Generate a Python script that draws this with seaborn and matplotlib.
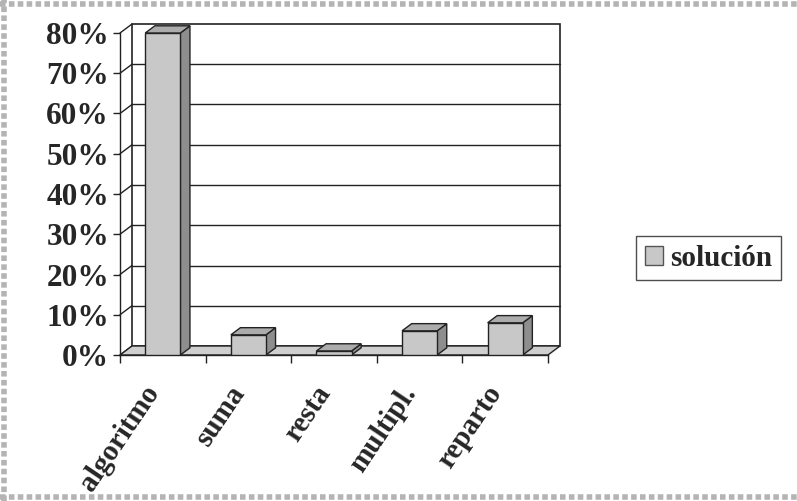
import matplotlib
matplotlib.use("Agg")
import matplotlib.pyplot as plt
from matplotlib import font_manager
from matplotlib.patches import Polygon, Rectangle, Patch
from matplotlib.lines import Line2D
from matplotlib.transforms import ScaledTranslation
import seaborn as sns
import pandas as pd

# Datos
categorias = ["algoritmo", "suma", "resta", "multipl.", "reparto"]
porcentajes = [80, 5, 1, 6, 8]
marcas_y = [0, 10, 20, 30, 40, 50, 60, 70, 80]
etiquetas_y = [f"{v}%" for v in marcas_y]
serie = "solución"

df = pd.DataFrame({"categoria": categorias, "porcentaje": porcentajes})

sns.set_style("white")
serif_path = font_manager.findfont(
    font_manager.FontProperties(family="Liberation Serif", weight="bold"),
    fallback_to_default=False)
fuente_y = font_manager.FontProperties(fname=serif_path, size=22.5)
fuente_x = font_manager.FontProperties(fname=serif_path, size=21)
fuente_leg = font_manager.FontProperties(fname=serif_path, size=21)

W, H = 797, 501
fig = plt.figure(figsize=(W / 100, H / 100), dpi=100)
fig.patch.set_facecolor("white")

# front box of the 3-D plot area (pixels)
x_left, x_right, y_bottom, y_top = 120, 548, 355, 33
ax = fig.add_axes([x_left / W, 1 - y_bottom / H, (x_right - x_left) / W, (y_bottom - y_top) / H])
ax.set_facecolor("none")

XMIN, XMAX, YMAX = -0.5, len(categorias) - 0.5, 80
# depth offset of the floor / walls, converted from pixels to data units
depth_px = (12, 9)
DX = depth_px[0] / ((x_right - x_left) / (XMAX - XMIN))
DY = depth_px[1] / ((y_bottom - y_top) / YMAX)

front = "#c8c8c8"
side = "#8e8e8e"
top = "#acacac"
edge = "#222222"

sns.barplot(data=df, x="categoria", y="porcentaje", color=front, width=0.41,
            edgecolor=edge, linewidth=1.0, saturation=1, ax=ax, zorder=4)
ax.set_xlim(XMIN, XMAX)
ax.set_ylim(0, YMAX)

# back wall with gridlines
ax.add_patch(Rectangle((XMIN + DX, DY), XMAX - XMIN, YMAX, facecolor="white",
                       edgecolor=edge, linewidth=1.2, zorder=0.5, clip_on=False))
for v in marcas_y[1:-1]:
    ax.add_line(Line2D([XMIN + DX, XMAX + DX], [v + DY, v + DY], color=edge,
                       linewidth=1.0, zorder=0.6, clip_on=False))
# left wall: slanted gridlines
for v in marcas_y:
    ax.add_line(Line2D([XMIN, XMIN + DX], [v, v + DY], color=edge,
                       linewidth=1.0, zorder=0.7, clip_on=False))
# floor
ax.add_patch(Polygon([(XMIN, 0), (XMAX, 0), (XMAX + DX, DY), (XMIN + DX, DY)],
                     closed=True, facecolor="#cfcfcf", edgecolor=edge,
                     linewidth=1.0, zorder=1, clip_on=False))

# 3-D faces of every bar, built from the bar patches
bd = 0.8
for p in ax.patches[:len(categorias)]:
    x0, w, h = p.get_x(), p.get_width(), p.get_height()
    ddx, ddy = DX * bd, DY * bd
    ax.add_patch(Polygon([(x0 + w, 0), (x0 + w + ddx, ddy), (x0 + w + ddx, h + ddy), (x0 + w, h)],
                         closed=True, facecolor=side, edgecolor=edge, linewidth=1.0,
                         zorder=3, clip_on=False))
    ax.add_patch(Polygon([(x0, h), (x0 + w, h), (x0 + w + ddx, h + ddy), (x0 + ddx, h + ddy)],
                         closed=True, facecolor=top, edgecolor=edge, linewidth=1.0,
                         zorder=3, clip_on=False))

for s in ["top", "right"]:
    ax.spines[s].set_visible(False)
for s in ["left", "bottom"]:
    ax.spines[s].set_color(edge)
    ax.spines[s].set_linewidth(1.0)
    ax.spines[s].set_zorder(2)

ax.set_xlabel("")
ax.set_ylabel("")
ax.set_yticks(marcas_y)
ax.set_yticklabels(etiquetas_y, fontproperties=fuente_y)
ax.tick_params(axis="y", direction="out", length=5, width=1, color=edge, pad=3, left=True)

ax.set_xticks(range(len(categorias)))
ax.set_xticklabels(categorias, fontproperties=fuente_x, rotation=56,
                   ha="right", va="center", rotation_mode="anchor")
ax.tick_params(axis="x", which="major", length=0, pad=24)
shift = ScaledTranslation(-9 / 100, 0, fig.dpi_scale_trans)
for lab in ax.get_xticklabels():
    lab.set_transform(lab.get_transform() + shift)
ax.set_xticks([i - 0.5 for i in range(len(categorias) + 1)], minor=True)
ax.tick_params(axis="x", which="minor", direction="out", length=6, width=1, color=edge, bottom=True)

# legend
leg = fig.legend(handles=[Patch(facecolor=front, edgecolor="#555555", label=serie)],
                 loc="center left", bbox_to_anchor=(636 / W, 1 - 258 / H),
                 frameon=True, fancybox=False, prop=fuente_leg,
                 handlelength=0.62, handleheight=0.62, handletextpad=0.25,
                 borderpad=0.3, borderaxespad=0)
leg.get_frame().set_edgecolor(edge)
leg.get_frame().set_linewidth(1.0)

# chart area border
for xs, ys in [([0, 1], [1 - 4 / H] * 2), ([4 / W] * 2, [0, 1]), ([0, 1], [4 / H] * 2)]:
    fig.add_artist(Line2D(xs, ys, transform=fig.transFigure, color="#b4b4b4",
                          linewidth=4, linestyle=(0, (1, 0.6))))

fig.savefig("out.png", dpi=100)
